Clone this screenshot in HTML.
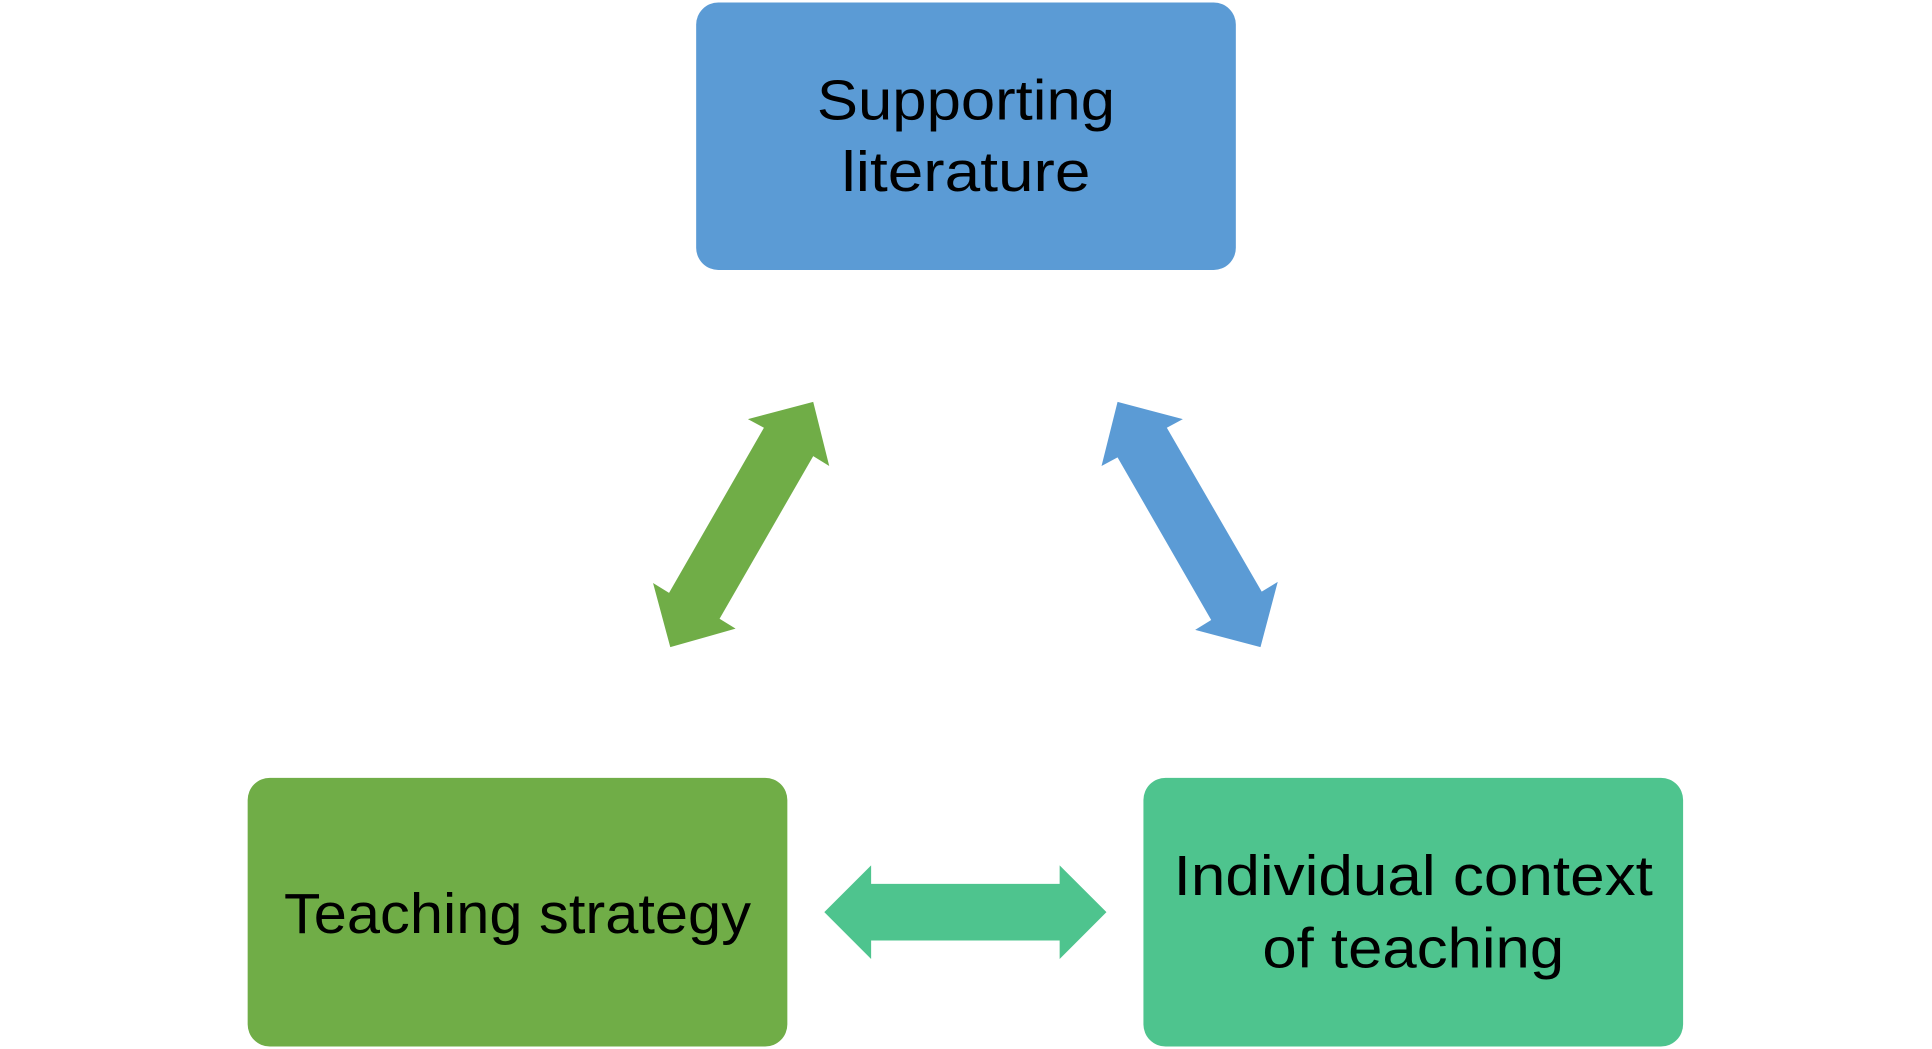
<!DOCTYPE html>
<html><head><meta charset="utf-8"><style>
html,body{margin:0;padding:0;background:#fff;}
svg{display:block;}
text{font-family:"Liberation Sans",sans-serif;font-size:46px;fill:#000;text-anchor:middle;}
</style></head><body>
<svg width="1932" height="1049" viewBox="0 0 1568 851" preserveAspectRatio="none">
<rect x="565" y="2" width="438" height="217" rx="18" fill="#5B9BD5"/>
<rect x="201" y="631" width="438" height="218" rx="18" fill="#70AD47"/>
<rect x="928" y="631" width="438" height="218" rx="18" fill="#4EC48E"/>
<polygon fill="#70AD47" points="660,326 673,378 660,370 584,502 597,510 544,525 530,473 543,481 620,347 607,340"/>
<polygon fill="#5B9BD5" points="907,326 960,340 947,347 1024,480 1037,472 1023,525 970,511 983,503 907,371 894,378"/>
<polygon fill="#4EC48E" points="669,740 707,702 707,717 860,717 860,702 898,740 860,778 860,763 707,763 707,778"/>
<text x="784" y="97" textLength="242" lengthAdjust="spacingAndGlyphs">Supporting</text>
<text x="784" y="155" textLength="202" lengthAdjust="spacingAndGlyphs">literature</text>
<text x="420" y="757" textLength="379" lengthAdjust="spacingAndGlyphs">Teaching strategy</text>
<text x="1147" y="726" textLength="389" lengthAdjust="spacingAndGlyphs">Individual context</text>
<text x="1147" y="785" textLength="245" lengthAdjust="spacingAndGlyphs">of teaching</text>
</svg>
</body></html>
